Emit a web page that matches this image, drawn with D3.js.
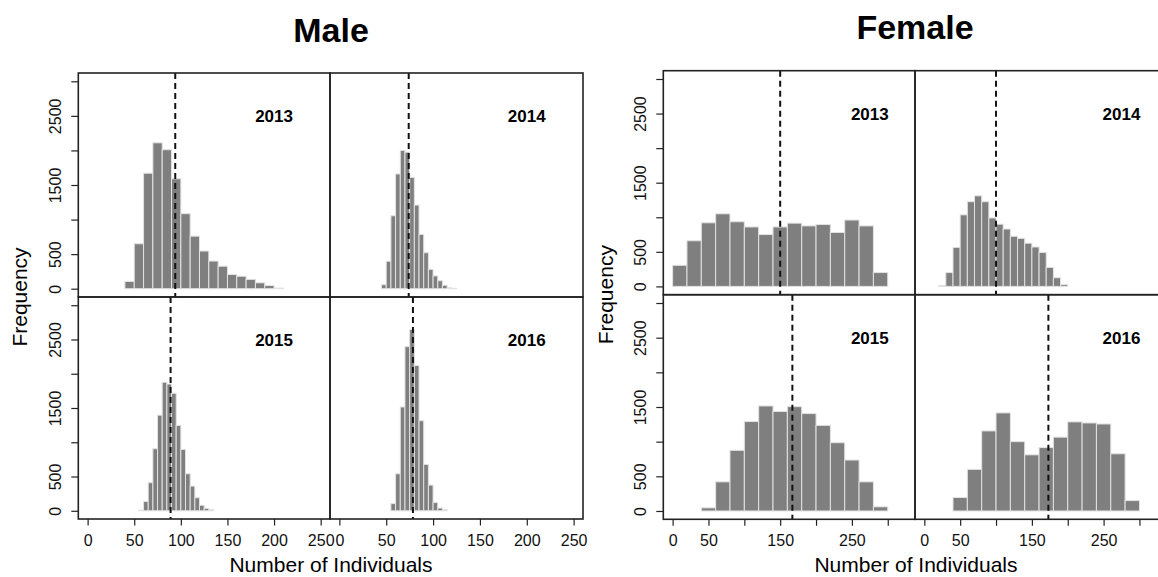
<!DOCTYPE html>
<html>
<head>
<meta charset="utf-8">
<script src="https://cdn.jsdelivr.net/npm/d3@7"></script>
<style>
  body { margin: 0; background: #fff; }
  svg { display: block; font-family: "Liberation Sans", Arial, Helvetica, sans-serif; }
</style>
</head>
<body>
<div id="chart"></div>
<script>
// Histogram data (counts per bin)
const years = ["2013", "2014", "2015", "2016"];

const maleStarts = [40, 45, 50, 50];
const maleWidths = [10, 5, 5, 5];
const male2013 = [105, 650, 1670, 2110, 2010, 1590, 1085, 760, 545, 400, 325, 205, 180, 135, 85, 45, 10];
const male2014 = [58, 397, 1055, 1660, 2000, 1975, 1610, 1210, 785, 520, 280, 185, 115, 50, 12, 5];
const male2015 = [0, 10, 135, 410, 905, 1395, 1875, 1850, 1715, 1245, 895, 540, 360, 190, 80, 35, 15];
const male2016 = [0, 105, 540, 1515, 2395, 2645, 2120, 1315, 675, 375, 120, 40, 15];
const maleMeans = [94, 74, 89, 78.5];

const femaleStarts = [0, 20, 40, 20];
const femaleWidths = [20, 10, 20, 20];
const female2013 = [305, 660, 920, 1050, 935, 860, 750, 860, 915, 875, 895, 780, 960, 875, 200];
const female2014 = [10, 200, 565, 1035, 1225, 1310, 1225, 990, 900, 830, 725, 695, 625, 570, 490, 275, 125, 25];
const female2015 = [45, 420, 875, 1290, 1515, 1435, 1505, 1405, 1235, 985, 735, 420, 60];
const female2016 = [0, 195, 600, 1155, 1415, 1000, 810, 915, 1065, 1285, 1270, 1255, 825, 150, 0];
const femaleMeans = [150, 100, 167, 173];

const yTicks = [0, 500, 1000, 1500, 2000, 2500, 3000];
const yTickLabels = [0, 500, 1500, 2500];
const maleXTicks = [0, 50, 100, 150, 200, 250];
const maleXTickLabels = [0, 50, 100, 150, 200, 250];
const femaleXTicks = [0, 50, 100, 150, 200, 250, 300];
const femaleXTickLabels = [0, 50, 150, 250];

// Layout of the two 2x2 blocks
const blocks = [
    {
        title: "Male", left: 78.3, top: 73, colW: [251.7, 253], rowH: [224, 222],
        xDomain: [-10, 260], xTicks: maleXTicks, xLabels: maleXTickLabels, labelX: 200,
        starts: maleStarts, widths: maleWidths, counts: [male2013, male2014, male2015, male2016],
        means: maleMeans, titleX: 331, titleY: 42, xTitleX: 331, yTitleX: 27
    },
    {
        title: "Female", left: 663.3, top: 70.7, colW: [251.7, 251.7], rowH: [224, 224.6],
        xDomain: [-13, 338], xTicks: femaleXTicks, xLabels: femaleXTickLabels, labelX: 275,
        starts: femaleStarts, widths: femaleWidths, counts: [female2013, female2014, female2015, female2016],
        means: femaleMeans, titleX: 915, titleY: 39, xTitleX: 916, yTitleX: 613
    }
];

const width = 1158, height = 577;
const svg = d3.select("#chart").append("svg")
    .attr("width", width)
    .attr("height", height);

const defs = svg.append("defs");

blocks.forEach((b, bi) => {
    const g = svg.append("g");

    // block title
    g.append("text")
        .attr("x", b.titleX).attr("y", b.titleY)
        .attr("text-anchor", "middle")
        .attr("font-size", 34).attr("font-weight", "bold")
        .text(b.title);

    years.forEach((yr, i) => {
        const row = Math.floor(i / 2), col = i % 2;
        const x0 = b.left + (col ? b.colW[0] : 0);
        const y0 = b.top + (row ? b.rowH[0] : 0);
        const w = b.colW[col], h = b.rowH[row];

        const x = d3.scaleLinear().domain(b.xDomain).range([x0, x0 + w]);
        const y = d3.scaleLinear().domain([-120, 3120]).range([y0 + h, y0]);

        const clipId = `clip-${bi}-${i}`;
        defs.append("clipPath").attr("id", clipId)
            .append("rect").attr("x", x0).attr("y", y0).attr("width", w).attr("height", h);

        const pg = g.append("g").attr("clip-path", `url(#${clipId})`);

        const bins = b.counts[i].map((c, j) => ({
            x0: b.starts[i] + j * b.widths[i],
            x1: b.starts[i] + (j + 1) * b.widths[i],
            n: c
        }));

        pg.selectAll("rect.bar")
            .data(bins)
            .join("rect")
            .attr("class", "bar")
            .attr("x", d => x(d.x0))
            .attr("width", d => x(d.x1) - x(d.x0))
            .attr("y", d => y(d.n))
            .attr("height", d => y(0) - y(d.n))
            .attr("fill", "#7f7f7f")
            .attr("stroke", "#e2e2e2")
            .attr("stroke-width", 1);

        // mean line
        pg.append("line")
            .attr("x1", x(b.means[i])).attr("x2", x(b.means[i]))
            .attr("y1", y0).attr("y2", y0 + h)
            .attr("stroke", "#111")
            .attr("stroke-width", 2)
            .attr("stroke-dasharray", "6,4");

        // year label
        g.append("text")
            .attr("x", x(b.labelX)).attr("y", y(2500))
            .attr("dy", "0.36em")
            .attr("text-anchor", "middle")
            .attr("font-size", 17).attr("font-weight", "bold")
            .text(yr);

        // panel frame
        g.append("rect")
            .attr("x", x0).attr("y", y0).attr("width", w).attr("height", h)
            .attr("fill", "none")
            .attr("stroke", "#222")
            .attr("stroke-width", 1.6);

        // y axis on left column
        if (col === 0) {
            const ay = g.append("g")
                .attr("transform", `translate(${x0},0)`)
                .call(d3.axisLeft(y).tickValues(yTicks).tickSize(7)
                    .tickFormat(d => yTickLabels.includes(d) ? d : ""));
            ay.select(".domain").remove();
            ay.selectAll("line").attr("stroke", "#222").attr("stroke-width", 1.2);
            ay.selectAll("text")
                .attr("x", 0).attr("y", -23).attr("dy", "0.36em")
                .attr("text-anchor", "middle")
                .attr("transform", "rotate(-90)")
                .attr("font-size", 16).attr("fill", "#111")
                .attr("font-family", null);
        }

        // x axis on bottom row
        if (row === 1) {
            const ax = g.append("g")
                .attr("transform", `translate(0,${y0 + h})`)
                .call(d3.axisBottom(x).tickValues(b.xTicks).tickSize(6.5)
                    .tickFormat(d => b.xLabels.includes(d) ? d : ""));
            ax.select(".domain").remove();
            ax.selectAll("line").attr("stroke", "#222").attr("stroke-width", 1.2);
            ax.selectAll("text")
                .attr("y", 27).attr("dy", null)
                .attr("font-size", 16).attr("fill", "#111")
                .attr("font-family", null);
        }
    });

    // axis titles
    g.append("text")
        .attr("x", b.xTitleX).attr("y", 572)
        .attr("text-anchor", "middle")
        .attr("font-size", 21)
        .text("Number of Individuals");

    const midY = b.top + b.rowH[0];
    g.append("text")
        .attr("transform", `translate(${b.yTitleX},${midY}) rotate(-90)`)
        .attr("text-anchor", "middle")
        .attr("font-size", 21)
        .text("Frequency");
});
</script>
</body>
</html>
